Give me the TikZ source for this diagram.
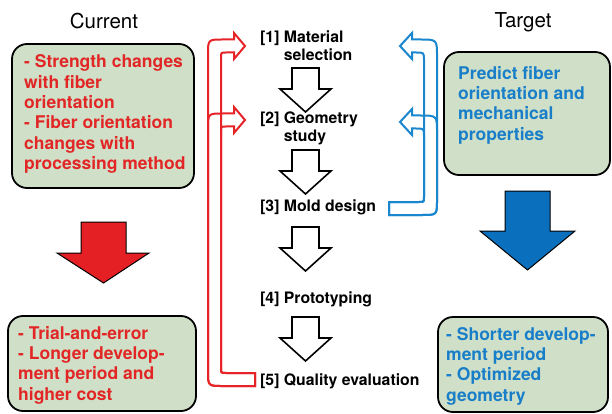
\documentclass[tikz,border=0pt]{standalone}
\usepackage{fontspec}
\setmainfont{TeX Gyre Heros}
\usetikzlibrary{positioning}

\definecolor{boxgreen}{RGB}{208,224,200}
\definecolor{txtred}{RGB}{226,38,38}
\definecolor{txtblue}{RGB}{24,126,200}
\definecolor{arrred}{RGB}{228,32,36}
\definecolor{arrblue}{RGB}{10,112,190}
\definecolor{loopred}{RGB}{230,36,40}
\definecolor{loopblue}{RGB}{26,134,206}

\begin{document}
\begin{tikzpicture}[
    x=1pt, y=-1pt,
    box/.style={rectangle, rounded corners=15pt, draw=black, line width=1.8pt, fill=boxgreen},
    head/.style={font=\fontsize{20.5}{24}\selectfont},
    redtxt/.style={align=left, inner sep=0pt, anchor=west, text=txtred, font=\fontsize{17.5}{20.3}\selectfont\bfseries},
    bluetxt/.style={redtxt, text=txtblue},
    stage/.style={align=left, inner sep=0pt, anchor=west, font=\fontsize{15.8}{18}\selectfont\bfseries},
    hollow/.style={draw=black, line width=1.6pt, fill=white},
    bigred/.style={draw=black, line width=1pt, fill=arrred},
    bigblue/.style={draw=black, line width=1pt, fill=arrblue},
    redloop/.style={draw=loopred, line width=2pt},
    blueloop/.style={draw=loopblue, line width=2pt}
]
\useasboundingbox (0,0) rectangle (612,414);

\node[head] (cur) at (104,21) {Current};
\node[head] (tgt) at (523,22) {Target};

\node[box, minimum width=182pt, minimum height=144pt] (curbox) at (103,116) {};
\node[redtxt] (curtxt) at (24,114) {- Strength changes\\with fiber\\orientation\\- Fiber orientation\\changes with\\processing method};

\node[box, minimum width=188pt, minimum height=95pt] (curres) at (102,363.5) {};
\node[redtxt] (currestxt) at (18,365) {- Trial-and-error\\- Longer develop-\\ment period and\\higher cost};

\node[box, minimum width=166pt, minimum height=123pt] (tgtbox) at (527,113.5) {};
\node[bluetxt] (tgttxt) at (458,105) {Predict fiber\\orientation and\\mechanical\\properties};

\node[box, minimum width=170pt, minimum height=95pt] (tgtres) at (523,364.5) {};
\node[bluetxt] (tgtrestxt) at (446,366) {- Shorter develop-\\ment period\\- Optimized\\geometry};

\draw[bigred] (81,222) -- (126,222) -- (126,253) -- (149,253) -- (103.5,283) -- (57,253) -- (81,253) -- cycle;
\draw[bigblue] (505,191) -- (550,191) -- (550,231) -- (575,231) -- (527.5,270) -- (480,231) -- (505,231) -- cycle;

\node[stage] (s1) at (260,47) {[1] Material\\\phantom{[1] }selection};
\node[stage] (s2) at (260,128) {[2] Geometry\\\phantom{[2] }study};
\node[stage] (s3) at (260,207) {[3] Mold design};
\node[stage] (s4) at (260,299) {[4] Prototyping};
\node[stage] (s5) at (260,381) {[5] Quality evaluation};

\foreach \t in {68,150,227,317}
    \draw[hollow] (292,\t) -- (319,\t) -- (319,\t+21) -- (331,\t+21) -- (305.5,\t+44) -- (280,\t+21) -- (292,\t+21) -- cycle;

% feedback from quality evaluation
\foreach \yh in {46,120}
    \draw[redloop] (255,373) -- (226,373) .. controls (221,373) .. (221,368) -- (221,\yh+11.5) .. controls (221,\yh+6.5) .. (226,\yh+6.5) -- (234,\yh+6.5) -- (234,\yh+13) -- (245,\yh) -- (234,\yh-13) -- (234,\yh-6.5) -- (223,\yh-6.5) .. controls (208,\yh-6.5) .. (208,\yh+8.5) -- (208,371) .. controls (208,386) .. (223,386) -- (255,386) -- cycle;

% feedback from mold design
\foreach \yh in {46,122}
    \draw[blueloop] (389,202) -- (419,202) .. controls (424,202) .. (424,197) -- (424,\yh+14.5) .. controls (424,\yh+6.5) .. (416,\yh+6.5) -- (412,\yh+6.5) -- (412,\yh+13) -- (400,\yh) -- (412,\yh-13) -- (412,\yh-6.5) -- (420,\yh-6.5) .. controls (437,\yh-6.5) .. (437,\yh+10.5) -- (437,200) .. controls (437,215) .. (422,215) -- (389,215) -- cycle;

\end{tikzpicture}
\end{document}
